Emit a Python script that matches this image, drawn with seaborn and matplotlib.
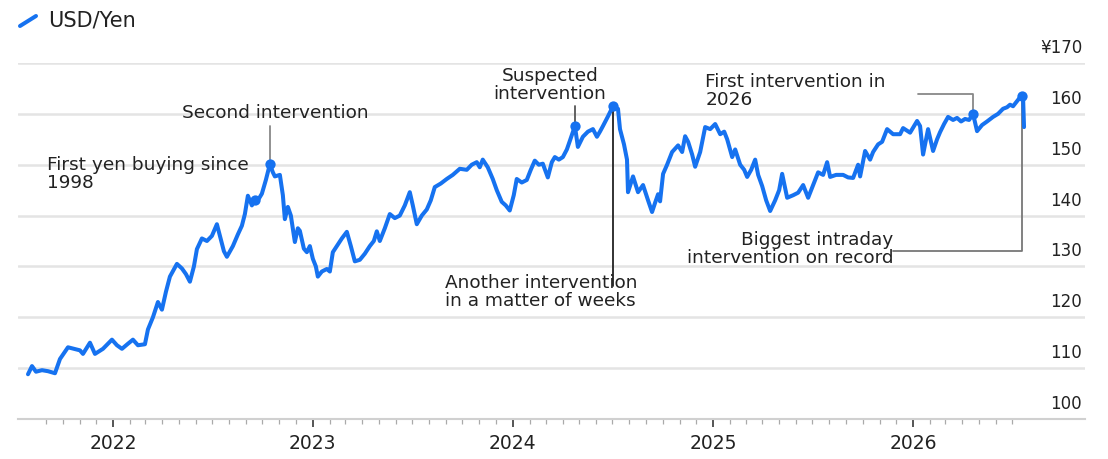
import numpy as np
import pandas as pd
import seaborn as sns
import matplotlib.pyplot as plt
import matplotlib.dates as mdates
import matplotlib.transforms as mtrans
from matplotlib.lines import Line2D

# time in decimal years and USD/JPY level
years = [
    2021.575, 2021.595, 2021.615, 2021.645, 2021.675, 2021.71, 2021.735, 2021.775,
    2021.805, 2021.835, 2021.85, 2021.885, 2021.91, 2021.95, 2021.995, 2022.02,
    2022.045, 2022.075, 2022.10, 2022.125, 2022.16, 2022.175, 2022.20, 2022.225,
    2022.245, 2022.265, 2022.285, 2022.32, 2022.345, 2022.365, 2022.385, 2022.405,
    2022.42, 2022.445, 2022.47, 2022.495, 2022.52, 2022.535, 2022.555, 2022.57,
    2022.60, 2022.625, 2022.645, 2022.66, 2022.675, 2022.695, 2022.71, 2022.725,
    2022.745, 2022.765, 2022.785, 2022.80, 2022.81, 2022.835, 2022.85, 2022.86,
    2022.875, 2022.89, 2022.91, 2022.925, 2022.935, 2022.955, 2022.97, 2022.985,
    2023.00, 2023.015, 2023.025, 2023.045, 2023.07, 2023.085, 2023.10, 2023.12,
    2023.145, 2023.17, 2023.19, 2023.21, 2023.235, 2023.26, 2023.285, 2023.305,
    2023.32, 2023.335, 2023.36, 2023.385, 2023.41, 2023.435, 2023.46, 2023.485,
    2023.50, 2023.52, 2023.545, 2023.57, 2023.59, 2023.61, 2023.64, 2023.67,
    2023.70, 2023.735, 2023.77, 2023.795, 2023.82, 2023.835, 2023.85, 2023.875,
    2023.90, 2023.92, 2023.945, 2023.965, 2023.985, 2024.005, 2024.02, 2024.045,
    2024.07, 2024.09, 2024.11, 2024.13, 2024.15, 2024.175, 2024.195, 2024.21,
    2024.23, 2024.25, 2024.27, 2024.285, 2024.31, 2024.325, 2024.35, 2024.375,
    2024.40, 2024.42, 2024.435, 2024.45, 2024.475, 2024.50, 2024.525, 2024.535,
    2024.555, 2024.57, 2024.575, 2024.60, 2024.625, 2024.65, 2024.675, 2024.695,
    2024.71, 2024.725, 2024.735, 2024.75, 2024.77, 2024.795, 2024.825, 2024.845,
    2024.86, 2024.875, 2024.895, 2024.91, 2024.935, 2024.96, 2024.985, 2025.01,
    2025.035, 2025.055, 2025.07, 2025.095, 2025.11, 2025.135, 2025.155, 2025.17,
    2025.19, 2025.21, 2025.225, 2025.245, 2025.265, 2025.285, 2025.31, 2025.33,
    2025.345, 2025.37, 2025.40, 2025.425, 2025.45, 2025.475, 2025.50, 2025.525,
    2025.55, 2025.57, 2025.585, 2025.615, 2025.65, 2025.675, 2025.70, 2025.725,
    2025.735, 2025.76, 2025.785, 2025.80, 2025.825, 2025.845, 2025.87, 2025.90,
    2025.935, 2025.95, 2025.985, 2026.02, 2026.035, 2026.05, 2026.075, 2026.10,
    2026.12, 2026.135, 2026.155, 2026.175, 2026.20, 2026.22, 2026.24, 2026.26,
    2026.28, 2026.30, 2026.32, 2026.345, 2026.37, 2026.40, 2026.425, 2026.45,
    2026.47, 2026.485, 2026.50, 2026.52, 2026.54, 2026.55, 2026.555,
]
usd_jpy = [
    108.8, 110.4, 109.3, 109.6, 109.4, 109.0, 111.8, 114.1,
    113.8, 113.5, 112.8, 115.0, 112.8, 113.8, 115.6, 114.5,
    113.8, 114.8, 115.6, 114.5, 114.7, 117.6, 120.0, 123.0,
    121.5, 125.0, 128.0, 130.5, 129.6, 128.5, 127.0, 130.0,
    133.4, 135.5, 135.0, 136.0, 138.3, 136.0, 133.0, 131.9,
    134.0, 136.3, 138.0, 140.3, 143.9, 142.0, 143.0, 143.0,
    144.3, 147.0, 150.1, 148.5, 147.7, 148.0, 144.0, 139.3,
    141.7, 140.0, 134.8, 137.5, 137.0, 133.5, 132.8, 134.0,
    131.5, 130.0, 128.0, 129.0, 129.5, 129.0, 132.8, 134.0,
    135.5, 136.8, 134.0, 131.0, 131.3, 132.5, 134.0, 135.0,
    136.9, 135.0, 137.5, 140.3, 139.5, 140.0, 142.0, 144.6,
    142.0, 138.3, 140.0, 141.2, 143.0, 145.6, 146.3, 147.2,
    148.0, 149.2, 149.0, 150.0, 150.5, 149.5, 151.0, 149.5,
    147.2, 145.0, 142.7, 142.0, 141.0, 144.0, 147.2, 146.5,
    147.0, 149.0, 150.8, 150.0, 150.2, 147.5, 150.5, 151.5,
    151.0, 151.5, 153.0, 154.7, 157.6, 153.5, 155.5, 156.5,
    157.0, 155.5, 156.5, 157.6, 159.5, 161.5, 161.0, 157.0,
    154.0, 151.0, 144.6, 147.7, 144.6, 146.0, 143.0, 140.7,
    142.5, 144.2, 142.8, 148.2, 150.0, 152.5, 153.8, 152.5,
    155.6, 154.5, 152.0, 149.6, 152.5, 157.4, 157.0, 158.0,
    156.0, 156.5, 155.0, 151.5, 153.0, 150.0, 149.0, 147.6,
    149.0, 151.0, 148.0, 145.8, 143.0, 140.9, 143.0, 145.0,
    148.2, 143.5, 144.0, 144.5, 146.0, 143.5, 146.0, 148.5,
    148.0, 150.5, 147.6, 148.0, 148.0, 147.5, 147.4, 150.0,
    147.7, 152.7, 151.0, 152.5, 154.0, 154.5, 157.0, 156.0,
    156.0, 157.2, 156.3, 158.6, 157.6, 152.0, 157.0, 152.7,
    155.0, 156.4, 158.0, 159.4, 158.8, 159.2, 158.5, 159.0,
    158.8, 160.0, 156.6, 157.8, 158.5, 159.4, 160.0, 161.0,
    161.3, 161.8, 161.5, 162.5, 163.5, 163.5, 157.4,
]

# intervention points marked with dots
event_years = [2022.71, 2022.785, 2024.31, 2024.50, 2026.30, 2026.545]
event_values = [143.0, 150.1, 157.6, 161.5, 160.0, 163.5]

y_ticks = [100, 110, 120, 130, 140, 150, 160, 170]
y_tick_labels = ["100", "110", "120", "130", "140", "150", "160", "¥170"]
x_tick_years = [2022, 2023, 2024, 2025, 2026]

BLUE = "#1672f0"
TEXT = "#222222"
GRID = "#e4e4e4"


def to_date(year):
    whole = int(np.floor(year))
    start = pd.Timestamp(whole, 1, 1)
    length = (pd.Timestamp(whole + 1, 1, 1) - start).days
    return start + pd.Timedelta(days=(year - whole) * length)


def main():
    sns.set_style("white")
    plt.rcParams["font.family"] = ["DejaVu Sans"]

    df = pd.DataFrame({"date": [to_date(y) for y in years], "usd_jpy": usd_jpy})
    events = pd.DataFrame({"date": [to_date(y) for y in event_years], "usd_jpy": event_values})

    fig = plt.figure(figsize=(11.08, 4.6), dpi=100)
    ax = fig.add_axes([18 / 1108, 40 / 460, 1067 / 1108, 356 / 460])

    sns.lineplot(data=df, x="date", y="usd_jpy", color=BLUE, linewidth=2.9, ax=ax, zorder=3)
    sns.scatterplot(data=events, x="date", y="usd_jpy", color=BLUE, s=55, linewidth=0, ax=ax, zorder=4)

    ax.set_xlim(to_date(2021.525), to_date(2026.86))
    ax.set_ylim(100, 170)
    ax.set(xlabel="", ylabel="")

    # y axis: labels sit right-aligned just above each gridline
    ax.set_yticks(y_ticks)
    ax.set_yticklabels(y_tick_labels)
    ax.yaxis.tick_right()
    ax.tick_params(axis="y", length=0, pad=0, labelsize=12, labelcolor=TEXT)
    offset = mtrans.ScaledTranslation(-2 / 72, 5 / 72, fig.dpi_scale_trans)
    for lab in ax.get_yticklabels():
        lab.set_horizontalalignment("right")
        lab.set_verticalalignment("bottom")
        lab.set_transform(lab.get_transform() + offset)
    ax.yaxis.grid(True, color=GRID, linewidth=1.8)
    ax.set_axisbelow(True)

    # x axis: years with monthly minor ticks
    ax.set_xticks([pd.Timestamp(y, 1, 1) for y in x_tick_years])
    ax.xaxis.set_major_formatter(mdates.DateFormatter("%Y"))
    ax.set_xticks(pd.date_range("2021-09-01", "2026-07-01", freq="MS"), minor=True)
    ax.tick_params(axis="x", which="both", bottom=True, direction="out")
    ax.tick_params(axis="x", which="major", length=6, width=1.4, color="#555555",
                   labelsize=13.5, labelcolor=TEXT, pad=4)
    ax.tick_params(axis="x", which="minor", length=3.5, width=0.9, color="#aaaaaa")

    for side in ["top", "left", "right"]:
        ax.spines[side].set_visible(False)
    ax.spines["bottom"].set_color("#d0d0d0")
    ax.spines["bottom"].set_linewidth(1.5)

    d = to_date
    ex = [d(y) for y in event_years]
    ev = event_values
    txt = dict(fontsize=13.3, color=TEXT, linespacing=1.0)
    lead = dict(linewidth=1.3, zorder=2)

    ax.text(d(2021.67), 148.3, "First yen buying since\n1998", ha="left", va="center", **txt)

    ax.text(d(2022.81), 160.4, "Second intervention", ha="center", va="center", **txt)
    ax.plot([ex[1], ex[1]], [ev[1], 157.6], color="#888888", **lead)

    ax.text(d(2024.185), 165.8, "Suspected\nintervention", ha="center", va="center", **txt)
    ax.plot([ex[2], ex[2]], [ev[2], 161.5], color="#555555", **lead)

    ax.text(d(2023.66), 125.2, "Another intervention\nin a matter of weeks", ha="left", va="center", **txt)
    ax.plot([ex[3], ex[3]], [ev[3], 126.2], color="#222222", **lead)

    ax.text(d(2024.96), 164.6, "First intervention in\n2026", ha="left", va="center", **txt)
    ax.plot([ex[4], ex[4], d(2026.025)], [160.4, 163.9, 163.9], color="#888888", **lead)

    ax.text(d(2025.90), 133.7, "Biggest intraday\nintervention on record", ha="right", va="center", **txt)
    ax.plot([ex[5], ex[5], d(2025.90)], [ev[5], 133.0, 133.0], color="#777777", **lead)

    # legend key at the top left
    fig.add_artist(Line2D([20 / 1108, 36 / 1108], [1 - 27 / 460, 1 - 17 / 460],
                          color=BLUE, linewidth=2.9, solid_capstyle="round"))
    fig.text(48 / 1108, 1 - 21 / 460, "USD/Yen", ha="left", va="center", fontsize=15, color=TEXT)

    fig.savefig("out.png", dpi=100)


if __name__ == "__main__":
    main()
